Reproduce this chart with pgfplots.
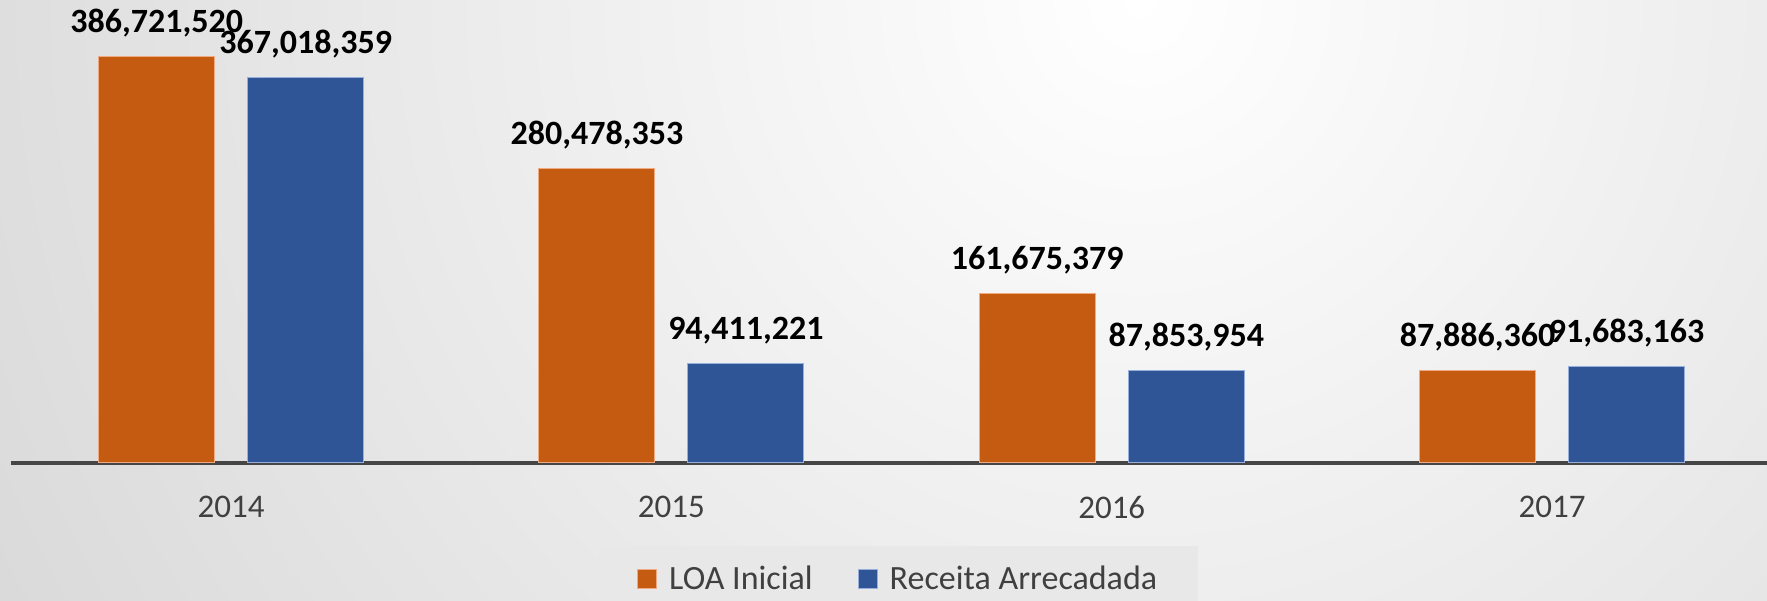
\documentclass[border=0pt]{standalone}
\usepackage{fontspec}
\setmainfont{Carlito}
\usepackage{pgfplots}
\usepackage{pgfplotstable}
\pgfplotsset{compat=1.18}
\definecolor{loa}{RGB}{197,90,17}
\definecolor{loaedge}{RGB}{240,170,130}
\definecolor{rec}{RGB}{47,85,151}
\definecolor{recedge}{RGB}{150,175,220}
\definecolor{txtgray}{RGB}{64,64,64}
\definecolor{axgray}{RGB}{70,70,70}
\definecolor{bggray}{RGB}{203,203,203}
\definecolor{legbg}{RGB}{232,232,232}
\pgfplotstableread{
x y lab
0 386.721520 386,721,520
1 280.478353 280,478,353
2 161.675379 161,675,379
3 87.886360 87,886,360
}\loatable
\pgfplotstableread{
x y lab
0 367.018359 367,018,359
1 94.411221 94,411,221
2 87.853954 87,853,954
3 91.683163 91,683,163
}\rectable
\begin{document}
\begin{tikzpicture}
\useasboundingbox (0pt,0pt) rectangle (1767pt,601pt);
\begin{scope}
\clip (0pt,0pt) rectangle (1767pt,601pt);
\shade[inner color=white, outer color=bggray] (1140pt,601pt) circle (1800pt);
\end{scope}
\begin{axis}[
  at={(11pt,138pt)}, anchor=south west,
  scale only axis, width=1761.2pt, height=463pt,
  xmin=-0.5, xmax=3.5, ymin=0, ymax=441.0,
  enlargelimits=false, clip=false,
  axis x line=bottom, axis y line=none,
  x axis line style={-, line width=4pt, color=axgray},
  xtick={0,1,2,3}, xticklabels={2014,2015,2016,2017},
  xtick style={draw=none},
  xticklabel style={font=\fontsize{33}{39}\selectfont, text=txtgray, inner sep=0pt, anchor=north, yshift=-29pt},
  ybar=33pt, bar width=116pt,
  point meta=explicit symbolic,
  nodes near coords,
  nodes near coords style={font=\bfseries\fontsize{34}{40}\selectfont, text=black, anchor=base, inner sep=0pt, yshift=24pt},
  legend columns=2,
  legend image code/.code={\draw[#1, line width=1pt] (0pt,-9.5pt) rectangle (19pt,9.5pt);},
  legend style={at={(0.3333,-0.1793)}, anchor=north west, draw=none, fill=legbg,
    font=\fontsize{34}{40}\selectfont, text=txtgray,
    inner xsep=39pt, inner ysep=18pt,
    /tikz/every even column/.append style={column sep=43pt}},
]
\addplot[fill=loa, draw=loaedge, line width=1pt] table[x=x, y=y, meta=lab] {\loatable};
\addplot[fill=rec, draw=recedge, line width=1pt] table[x=x, y=y, meta=lab] {\rectable};
\legend{\hspace{10pt}LOA Inicial, \hspace{10pt}Receita Arrecadada}
\end{axis}
\end{tikzpicture}
\end{document}
